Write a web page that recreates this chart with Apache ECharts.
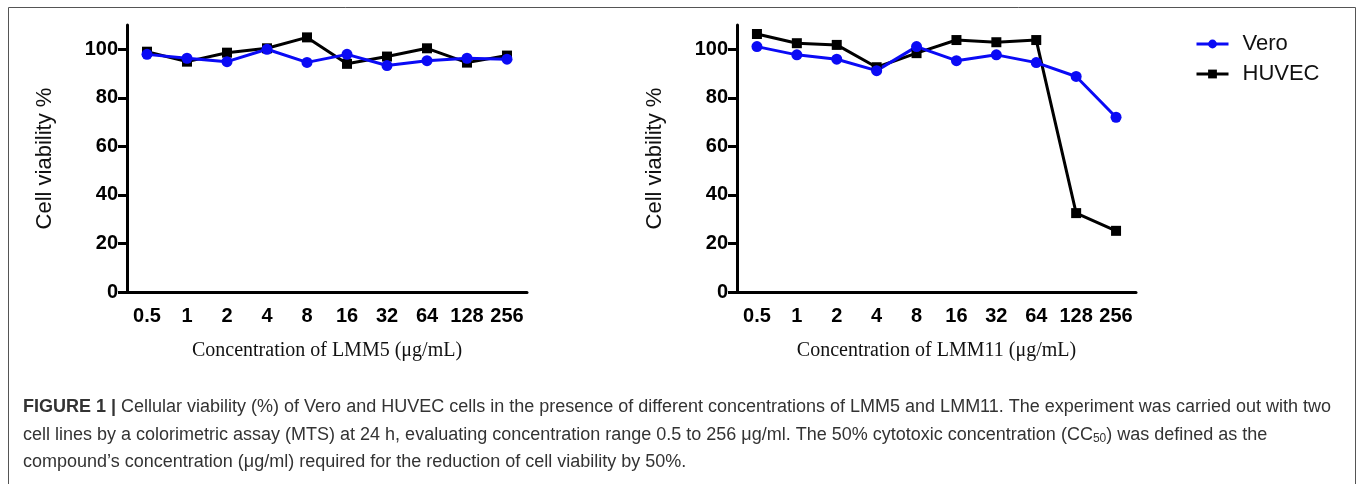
<!DOCTYPE html>
<html>
<head>
<meta charset="utf-8">
<title>Cell viability</title>
<script src="https://cdn.jsdelivr.net/npm/echarts@6/dist/echarts.min.js"></script>
<style>
  html, body { margin: 0; padding: 0; background: #fff; }
  #chart { width: 1360px; height: 484px; }
</style>
</head>
<body>
<div id="chart"></div>
<script>
// concentrations (µg/mL) shown on both x axes
const concentrations = ['0.5', '1', '2', '4', '8', '16', '32', '64', '128', '256']
const yTicks = [0, 20, 40, 60, 80, 100]

// LMM5 panel
const lmm5Vero = [97.9, 96.3, 94.9, 100.0, 94.6, 97.9, 93.3, 95.3, 96.3, 95.9]
const lmm5Huvec = [99.0, 94.9, 98.6, 100.4, 104.9, 94.0, 97.0, 100.4, 94.5, 97.4]

// LMM11 panel
const lmm11Vero = [101.1, 97.7, 95.9, 91.2, 101.1, 95.3, 97.7, 94.5, 88.8, 72.0]
const lmm11Huvec = [106.3, 102.5, 101.8, 92.6, 98.4, 103.8, 102.9, 103.8, 32.5, 25.2]

const BLUE = '#0a0af5'
const BLACK = '#000'
const axisFont = 'Liberation Sans, Arial, sans-serif'

const chart = echarts.init(document.getElementById('chart'), null, { renderer: 'canvas' })

function xAxis(gridIndex, name) {
    return {
        type: 'category',
        gridIndex,
        data: concentrations,
        boundaryGap: true,
        name,
        nameLocation: 'middle',
        nameGap: 49,
        nameTextStyle: { fontFamily: 'Liberation Serif, Times New Roman, serif', fontSize: 20, color: '#111' },
        axisLine: { lineStyle: { color: BLACK, width: 3 } },
        axisTick: { alignWithLabel: true, interval: 0, length: 9, lineStyle: { width: 3, color: BLACK } },
        axisLabel: { interval: 0, hideOverlap: false, margin: 14, fontFamily: axisFont, fontWeight: 'bold', fontSize: 20, color: BLACK },
        splitLine: { show: false }
    }
}

function yAxis(gridIndex) {
    return {
        type: 'value',
        gridIndex,
        min: 0,
        max: 110,
        interval: 20,
        name: 'Cell viability %',
        nameLocation: 'middle',
        nameGap: 71,
        nameTextStyle: { fontFamily: axisFont, fontSize: 22, color: '#111' },
        axisLine: { show: true, lineStyle: { color: BLACK, width: 3 } },
        axisTick: { show: true, length: 9, customValues: yTicks, lineStyle: { width: 3, color: BLACK } },
        axisLabel: { margin: 9, customValues: yTicks, fontFamily: axisFont, fontWeight: 'bold', fontSize: 20, color: BLACK },
        splitLine: { show: false }
    }
}

function series(name, xi, data, color, symbol, size) {
    return {
        name,
        type: 'line',
        xAxisIndex: xi,
        yAxisIndex: xi,
        data,
        symbol,
        symbolSize: size,
        lineStyle: { color, width: 3 },
        itemStyle: { color },
        animation: false
    }
}

const captionFont = 'Liberation Sans, Arial, sans-serif'
const captionStyle = {
    fontFamily: captionFont,
    fontSize: 18,
    fill: '#333',
    rich: {
        b: { fontFamily: captionFont, fontSize: 18, fontWeight: 'bold', color: '#222' },
        sub: { fontFamily: captionFont, fontSize: 12, color: '#333', padding: [8, 0, 0, 0] }
    }
}

chart.setOption({
    animation: false,
    grid: [
        { left: 127, top: 25, width: 400, height: 267 },
        { left: 737, top: 25, width: 399, height: 267 }
    ],
    xAxis: [
        xAxis(0, 'Concentration of LMM5 (μg/mL)'),
        xAxis(1, 'Concentration of LMM11 (μg/mL)')
    ],
    yAxis: [yAxis(0), yAxis(1)],
    legend: {
        data: ['Vero', 'HUVEC'],
        orient: 'vertical',
        left: 1195,
        top: 33,
        padding: 0,
        itemWidth: 32,
        itemHeight: 11,
        itemGap: 8,
        lineStyle: { width: 3 },
        textStyle: { fontFamily: axisFont, fontSize: 22, color: '#111', lineHeight: 22, padding: [0, 0, 0, 9] }
    },
    series: [
        series('HUVEC', 0, lmm5Huvec, BLACK, 'rect', 10),
        series('Vero', 0, lmm5Vero, BLUE, 'circle', 11),
        series('HUVEC', 1, lmm11Huvec, BLACK, 'rect', 10),
        series('Vero', 1, lmm11Vero, BLUE, 'circle', 11)
    ],
    graphic: [
        {
            type: 'rect',
            shape: { x: 8.5, y: 7.5, width: 1347, height: 520 },
            style: { fill: 'none', stroke: '#555', lineWidth: 1 },
            silent: true
        },
        {
            type: 'text', left: 23, top: 398,
            style: Object.assign({}, captionStyle, {
                text: '{b|FIGURE 1 |} Cellular viability (%) of Vero and HUVEC cells in the presence of different concentrations of LMM5 and LMM11. The experiment was carried out with two'
            })
        },
        {
            type: 'text', left: 23, top: 426,
            style: Object.assign({}, captionStyle, {
                text: 'cell lines by a colorimetric assay (MTS) at 24 h, evaluating concentration range 0.5 to 256 μg/ml. The 50% cytotoxic concentration (CC{sub|50}) was defined as the'
            })
        },
        {
            type: 'text', left: 23, top: 453,
            style: Object.assign({}, captionStyle, {
                text: 'compound’s concentration (μg/ml) required for the reduction of cell viability by 50%.'
            })
        }
    ]
})
</script>
</body>
</html>
